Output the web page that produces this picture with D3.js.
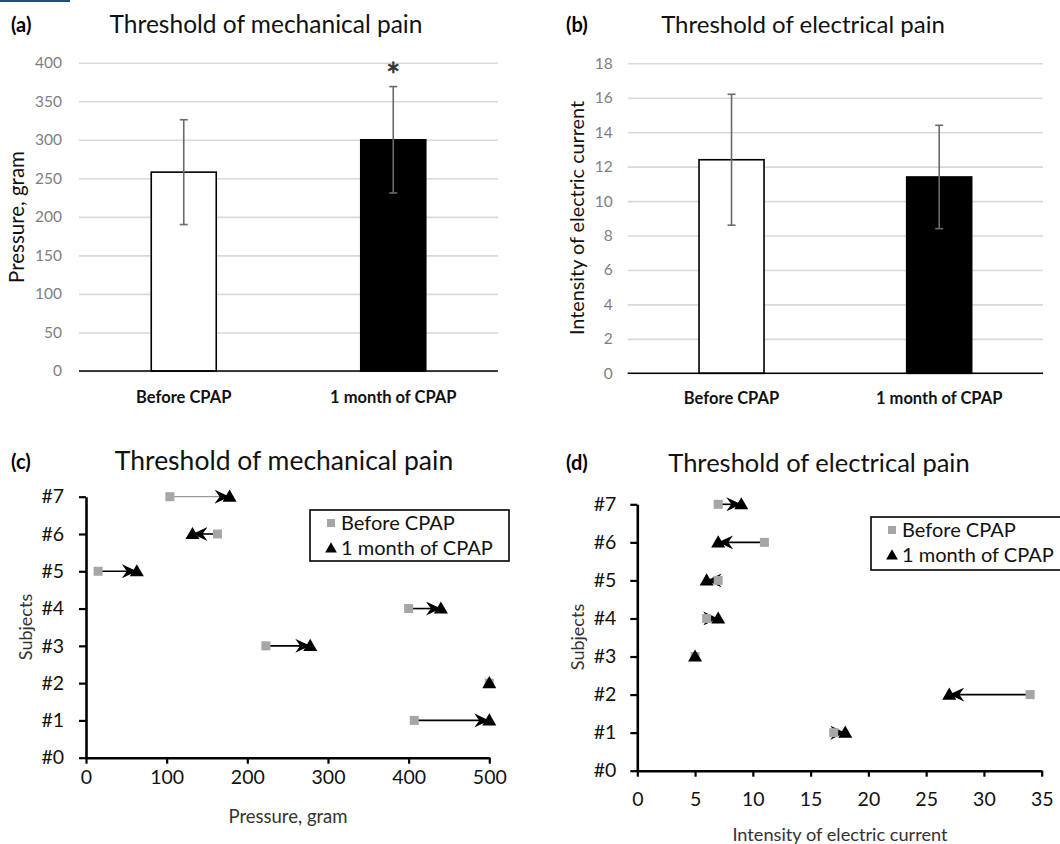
<!DOCTYPE html>
<html><head><meta charset="utf-8">
<script src="https://cdn.jsdelivr.net/npm/d3@7"></script>
<style>
body{margin:0;background:#fff;}
svg{display:block;}
text{font-family:Lato,"Open Sans",sans-serif;}
</style></head>
<body>
<svg id="chart" width="1060" height="844"></svg>
<script>
// ---- data ----
const barCategories = ["Before CPAP", "1 month of CPAP"];
const mechMean = [258, 300];
const mechErr = [68, 69];
const elecMean = [12.4, 11.4];
const elecErr = [3.8, 3.0];
const mechTicks = [0, 50, 100, 150, 200, 250, 300, 350, 400];
const elecTicks = [0, 2, 4, 6, 8, 10, 12, 14, 16, 18];

const subjects = [1, 2, 3, 4, 5, 6, 7];
const mechBefore = [407, 500, 223, 400, 15, 163, 104];
const mechAfter  = [500, 500, 278, 440, 63, 132, 178];
const elecBefore = [17, 34, 5, 6, 7, 11, 7];
const elecAfter  = [18, 27, 5, 7, 6, 7, 9];
const subjectTicks = [0, 1, 2, 3, 4, 5, 6, 7];
const mechXTicks = [0, 100, 200, 300, 400, 500];
const elecXTicks = [0, 5, 10, 15, 20, 25, 30, 35];
const legendLabels = ["Before CPAP", "1 month of CPAP"];

const svg = d3.select("#chart");

// small blue mark at top-left
svg.append("rect").attr("x", 0).attr("y", 0).attr("width", 70).attr("height", 2).attr("fill", "#1f4e79");

svg.append("defs").append("marker")
  .attr("id", "arrow").attr("markerUnits", "userSpaceOnUse")
  .attr("markerWidth", 16).attr("markerHeight", 14)
  .attr("refX", 13).attr("refY", 7).attr("orient", "auto")
  .append("path").attr("d", "M0,0 L15,7 L0,14 L5,7 Z").attr("fill", "#000");

function panelLabel(x, y, t) {
  svg.append("text").attr("x", x).attr("y", y).attr("font-family", "'Liberation Sans',Arial,sans-serif")
    .attr("font-weight", "bold").attr("font-size", 20).attr("fill", "#000").text(t);
}
function title(cx, y, t, fs) {
  svg.append("text").attr("x", cx).attr("y", y).attr("text-anchor", "middle")
    .attr("font-size", fs).attr("fill", "#111").text(t);
}

// ---- bar panels ----
function barPanel(opt) {
  const y = d3.scaleLinear().domain(opt.domain).range([opt.y0, opt.y1]);
  const x = d3.scaleBand().domain(barCategories).range([opt.x0, opt.x1]);
  const g = svg.append("g");
  const yAxis = d3.axisLeft(y).tickValues(opt.ticks).tickSize(-(opt.x1 - opt.x0)).tickPadding(opt.tickPad);
  const ag = g.append("g").attr("transform", `translate(${opt.x0},0)`).call(yAxis);
  ag.select(".domain").remove();
  ag.selectAll(".tick line").attr("stroke", "#d9d9d9").attr("stroke-width", 1.6);
  ag.selectAll(".tick text").attr("fill", "#7f7f7f").attr("font-size", 15.5).attr("font-family", "Lato,sans-serif");
  // bars
  const bw = 65;
  g.selectAll("rect.bar").data(barCategories).join("rect")
    .attr("x", d => x(d) + x.bandwidth() / 2 - bw / 2)
    .attr("y", (d, i) => y(opt.mean[i]))
    .attr("width", bw)
    .attr("height", (d, i) => y(0) - y(opt.mean[i]))
    .attr("fill", (d, i) => i === 0 ? "#fff" : "#000")
    .attr("stroke", "#000").attr("stroke-width", 1.6);
  // baseline
  g.append("line").attr("x1", opt.x0).attr("x2", opt.x1).attr("y1", y(0)).attr("y2", y(0))
    .attr("stroke", "#000").attr("stroke-width", 1.6);
  // error bars
  barCategories.forEach((c, i) => {
    const cx = x(c) + x.bandwidth() / 2;
    const top = y(opt.mean[i] + opt.err[i]), bot = y(opt.mean[i] - opt.err[i]);
    g.append("line").attr("x1", cx).attr("x2", cx).attr("y1", top).attr("y2", bot).attr("stroke", "#6a6a6a").attr("stroke-width", 1.6);
    [top, bot].forEach(v => g.append("line").attr("x1", cx - 4).attr("x2", cx + 4).attr("y1", v).attr("y2", v).attr("stroke", "#6a6a6a").attr("stroke-width", 1.6));
  });
  // category labels
  g.selectAll("text.cat").data(barCategories).join("text")
    .attr("x", d => x(d) + x.bandwidth() / 2).attr("y", opt.catY)
    .attr("text-anchor", "middle").attr("font-weight", "bold").attr("font-size", 16.5).attr("fill", "#111")
    .text(d => d);
  // y title
  svg.append("text").attr("transform", `translate(${opt.ytx},${opt.yty}) rotate(-90)`)
    .attr("text-anchor", "middle").attr("font-size", opt.ytfs).attr("fill", "#111").text(opt.ytitle);
  return { x, y };
}

const a = barPanel({ domain: [0, 400], y0: 371, y1: 62.7, x0: 79, x1: 498, ticks: mechTicks, tickPad: 17,
  mean: mechMean, err: mechErr, catY: 403, ytx: 24, yty: 217, ytitle: "Pressure, gram", ytfs: 20.5 });
// significance star
svg.append("text").attr("x", a.x(barCategories[1]) + a.x.bandwidth() / 2).attr("y", 88)
  .attr("text-anchor", "middle").attr("font-family", "'Liberation Sans',Arial,sans-serif")
  .attr("font-size", 34).attr("fill", "#333").attr("stroke", "#333").attr("stroke-width", 0.6).text("*");

barPanel({ domain: [0, 18], y0: 373.3, y1: 63.3, x0: 627.7, x1: 1043, ticks: elecTicks, tickPad: 15,
  mean: elecMean, err: elecErr, catY: 404, ytx: 584, yty: 218, ytitle: "Intensity of electric current", ytfs: 19.8 });

panelLabel(11, 32, "(a)");
title(266, 33, "Threshold of mechanical pain", 24.5);
panelLabel(566, 32, "(b)");
title(803, 33, "Threshold of electrical pain", 24);

// ---- subject panels ----
function subjPanel(opt) {
  const x = d3.scaleLinear().domain(opt.xdomain).range([opt.x0, opt.x1]);
  const y = d3.scaleLinear().domain([0, 7]).range([opt.y0, opt.y1]);
  const g = svg.append("g");
  const xa = g.append("g").attr("transform", `translate(0,${opt.y0})`)
    .call(d3.axisBottom(x).tickValues(opt.xticks).tickSize(6).tickPadding(opt.xPad).tickSizeOuter(0));
  const ya = g.append("g").attr("transform", `translate(${opt.x0},0)`)
    .call(d3.axisLeft(y).tickValues(subjectTicks).tickFormat(d => "#" + d).tickSize(7).tickPadding(opt.yPad).tickSizeOuter(0));
  [xa, ya].forEach(ax => {
    ax.select(".domain").attr("stroke", "#000").attr("stroke-width", 2.6);
    ax.selectAll(".tick line").attr("stroke", "#000").attr("stroke-width", 2.2);
    ax.selectAll(".tick text").attr("fill", "#111").attr("font-size", 19.5).attr("font-family", "Lato,sans-serif");
  });
  // arrows
  subjects.forEach((s, i) => {
    const b = opt.before[i], af = opt.after[i];
    if (b === af) return;
    const dir = af > b ? 1 : -1;
    g.append("line").attr("x1", x(b)).attr("x2", x(af) - dir * 2).attr("y1", y(s)).attr("y2", y(s))
      .attr("stroke", (opt.grayLine && s === 7) ? "#808080" : "#000")
      .attr("stroke-width", (opt.grayLine && s === 7) ? 1 : 1.6)
      .attr("marker-end", "url(#arrow)");
  });
  // before squares
  g.selectAll("rect.b").data(subjects).join("rect")
    .attr("x", (d, i) => x(opt.before[i]) - 4.5).attr("y", d => y(d) - 4.5)
    .attr("width", 9).attr("height", 9).attr("fill", "#a6a6a6");
  // after triangles
  const tri = d3.symbol().type(d3.symbolTriangle).size(85);
  g.selectAll("path.a").data(subjects).join("path")
    .attr("transform", (d, i) => `translate(${x(opt.after[i])},${y(d) + 1})`)
    .attr("d", tri).attr("fill", "#000");
  // axis titles
  svg.append("text").attr("x", opt.xtx).attr("y", opt.xty).attr("text-anchor", "middle")
    .attr("font-size", opt.xtfs).attr("fill", "#333").text(opt.xtitle);
  svg.append("text").attr("transform", `translate(${opt.ytx},${opt.yty}) rotate(-90)`)
    .attr("text-anchor", "middle").attr("font-size", 18).attr("fill", "#333").text("Subjects");
  // legend
  const lg = svg.append("g");
  lg.append("rect").attr("x", opt.lx).attr("y", opt.ly).attr("width", opt.lw).attr("height", opt.lh)
    .attr("fill", "#fff").attr("stroke", "#000").attr("stroke-width", 1.6);
  lg.append("rect").attr("x", opt.lx + 17).attr("y", opt.ly + 9).attr("width", 8).attr("height", 8).attr("fill", "#a6a6a6");
  lg.append("path").attr("transform", `translate(${opt.lx + 21},${opt.ly + 39})`)
    .attr("d", d3.symbol().type(d3.symbolTriangle).size(60)).attr("fill", "#000");
  lg.selectAll("text").data(legendLabels).join("text")
    .attr("x", opt.lx + 31).attr("y", (d, i) => opt.ly + 20 + i * 25)
    .attr("font-size", 20).attr("fill", "#111").text(d => d);
}

subjPanel({ xdomain: [0, 500], x0: 86, x1: 489.3, y0: 757.7, y1: 496.7, xticks: mechXTicks, xPad: 6, yPad: 15,
  before: mechBefore, after: mechAfter, grayLine: true,
  xtx: 288, xty: 823, xtitle: "Pressure, gram", xtfs: 18.5, ytx: 32, yty: 627,
  lx: 310, ly: 510, lw: 199, lh: 51 });

subjPanel({ xdomain: [0, 35], x0: 637.3, x1: 1041.7, y0: 770.7, y1: 504.3, xticks: elecXTicks, xPad: 15, yPad: 14,
  before: elecBefore, after: elecAfter, grayLine: false,
  xtx: 840, xty: 841, xtitle: "Intensity of electric current", xtfs: 18.2, ytx: 584, yty: 637,
  lx: 871, ly: 517, lw: 200, lh: 53 });

panelLabel(11, 469, "(c)");
title(284, 470, "Threshold of mechanical pain", 26.5);
panelLabel(566, 470, "(d)");
title(819, 472, "Threshold of electrical pain", 25.5);
</script>
</body></html>
